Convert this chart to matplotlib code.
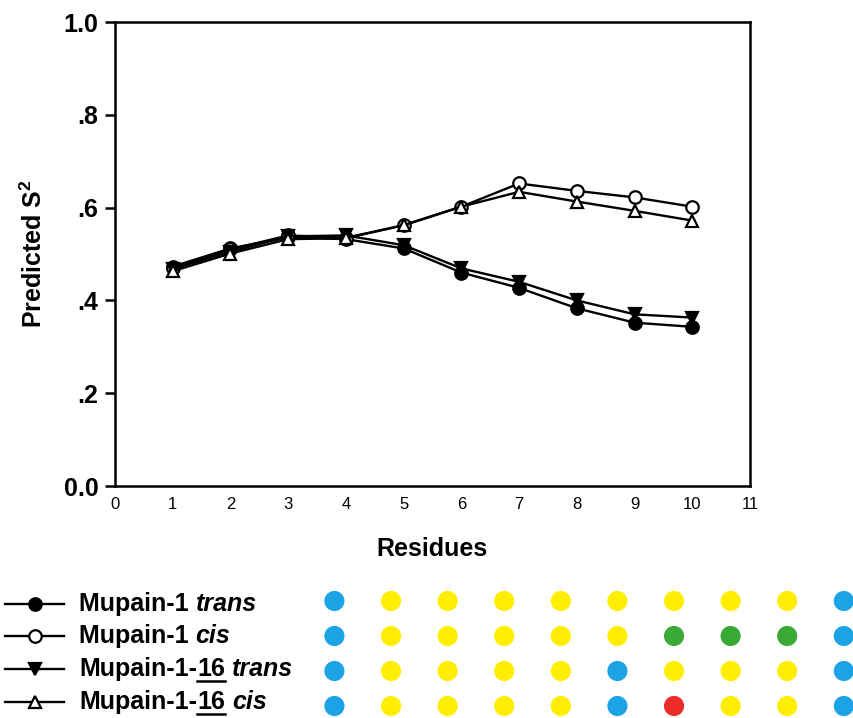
import numpy as np
import matplotlib
matplotlib.use("Agg")
from matplotlib import pyplot as plt
from matplotlib.lines import Line2D

plt.rcParams['font.family'] = ['Liberation Sans', 'DejaVu Sans']
plt.rcParams['mathtext.fontset'] = 'custom'
plt.rcParams['mathtext.rm'] = 'Liberation Sans'
plt.rcParams['mathtext.default'] = 'regular'

# data
residues = [1, 2, 3, 4, 5, 6, 7, 8, 9, 10]
mupain_trans = [0.473, 0.512, 0.536, 0.532, 0.512, 0.460, 0.427, 0.383, 0.352, 0.343]
mupain_cis = [0.470, 0.510, 0.540, 0.535, 0.562, 0.602, 0.652, 0.636, 0.622, 0.602]
mupain16_trans = [0.468, 0.505, 0.538, 0.540, 0.519, 0.469, 0.440, 0.400, 0.370, 0.363]
mupain16_cis = [0.463, 0.501, 0.532, 0.534, 0.562, 0.602, 0.634, 0.613, 0.593, 0.572]

yticks = [0.0, 0.2, 0.4, 0.6, 0.8, 1.0]
ytick_labels = ['0.0', '.2', '.4', '.6', '.8', '1.0']
xticks = list(range(0, 12))

# colour code per residue for each peptide (B=blue, Y=yellow, G=green, R=red)
dot_rows = [
    ['B', 'Y', 'Y', 'Y', 'Y', 'Y', 'Y', 'Y', 'Y', 'B'],
    ['B', 'Y', 'Y', 'Y', 'Y', 'Y', 'G', 'G', 'G', 'B'],
    ['B', 'Y', 'Y', 'Y', 'Y', 'B', 'Y', 'Y', 'Y', 'B'],
    ['B', 'Y', 'Y', 'Y', 'Y', 'B', 'R', 'Y', 'Y', 'B'],
]
dot_colors = {'B': '#1BA3E6', 'Y': '#FFEE00', 'G': '#3AA935', 'R': '#EC2B2B'}

# legend entries: (pieces of text, marker, facecolor)
legend_items = [
    ([('Mupain-1 ', 'normal', False), ('trans', 'italic', False)], 'o', 'black'),
    ([('Mupain-1 ', 'normal', False), ('cis', 'italic', False)], 'o', 'white'),
    ([('Mupain-1-', 'normal', False), ('16', 'normal', True), (' ', 'normal', False), ('trans', 'italic', False)], 'v', 'black'),
    ([('Mupain-1-', 'normal', False), ('16', 'normal', True), (' ', 'normal', False), ('cis', 'italic', False)], '^', 'white'),
]

W, H = 854, 718
fig = plt.figure(figsize=(W / 100, H / 100), dpi=100)
ax = fig.add_axes([115 / W, 1 - 486 / H, 635 / W, 464 / H])

series = [mupain_trans, mupain_cis, mupain16_trans, mupain16_cis]
for i, (vals, (_, mk, fc)) in enumerate(zip(series, legend_items)):
    ax.plot(residues, vals, color='black', lw=1.7, marker=mk, markersize=9,
            markerfacecolor=fc, markeredgecolor='black', markeredgewidth=1.6, zorder=3 + i)

ax.set_xlim(0, 11)
ax.set_ylim(0, 1.0)
ax.set_yticks(yticks)
ax.set_yticklabels(ytick_labels, fontsize=18, fontweight='bold')
ax.set_xticks(xticks)
ax.set_xticklabels([str(t) for t in xticks], fontsize=12)
ax.tick_params(axis='x', length=0, pad=8)
ax.tick_params(axis='y', length=7, width=1.8, direction='out', pad=5)
for s in ax.spines.values():
    s.set_linewidth(1.8)
ax.set_ylabel(r'Predicted S$^2$', fontsize=18, fontweight='bold', labelpad=12)
ax.set_xlabel('Residues', fontsize=18, fontweight='bold', labelpad=18)

# overlay in pixel coordinates for the legend and the colour grid
lax = fig.add_axes([0, 0, 1, 1])
lax.set_xlim(0, W)
lax.set_ylim(H, 0)
lax.axis('off')

renderer = fig.canvas.get_renderer()
row_y = [604, 636, 669, 702]
for (pieces, mk, fc), y in zip(legend_items, row_y):
    lax.add_line(Line2D([5, 64], [y, y], color='black', lw=1.7))
    lax.plot([35], [y], marker=mk, markersize=9, markerfacecolor=fc,
             markeredgecolor='black', markeredgewidth=1.6, ls='')
    x = 79
    for txt, style, under in pieces:
        t = lax.text(x, y, txt, fontsize=18, fontweight='bold', fontstyle=style,
                     va='center', ha='left')
        w = t.get_window_extent(renderer).width
        if under:
            lax.add_line(Line2D([x, x + w], [y + 12, y + 12], color='black', lw=1.8))
        x += w

gax = fig.add_axes([305 / W, 0, (W - 305) / W, 135 / H])
for r, row in enumerate(dot_rows):
    gax.scatter(np.arange(1, len(row) + 1), [r] * len(row), s=210,
                c=[dot_colors[k] for k in row], linewidths=0)
gax.set_xlim(0.48, 10.18)
gax.set_ylim(3.343, -0.514)
gax.axis('off')

fig.savefig('out.png', dpi=100)
